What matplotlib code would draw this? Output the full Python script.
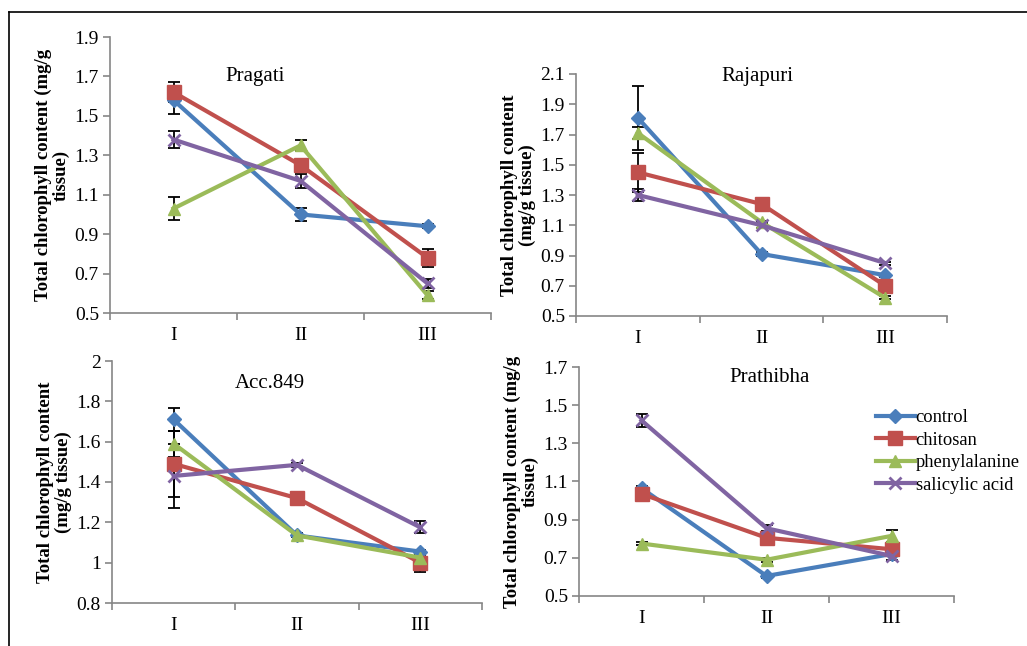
import numpy as np
import matplotlib
matplotlib.use("Agg")
import matplotlib.pyplot as plt
from matplotlib.lines import Line2D

# =====================
# DATA
# =====================
STAGES = ["I", "II", "III"]
SERIES = ["control", "chitosan", "phenylalanine", "salicylic acid"]

pragati_mean = [
    [1.58, 1.00, 0.94],
    [1.62, 1.25, 0.78],
    [1.03, 1.35, 0.59],
    [1.38, 1.17, 0.65],
]
pragati_err = [
    [0.07, 0.035, 0.01],
    [0.05, 0.03, 0.045],
    [0.06, 0.03, 0.02],
    [0.045, 0.035, 0.025],
]

rajapuri_mean = [
    [1.81, 0.91, 0.77],
    [1.45, 1.24, 0.70],
    [1.71, 1.12, 0.62],
    [1.30, 1.10, 0.85],
]
rajapuri_err = [
    [0.21, 0.01, 0.01],
    [0.13, 0.01, 0.02],
    [0.04, 0.01, 0.01],
    [0.04, 0.02, 0.01],
]

acc849_mean = [
    [1.71, 1.135, 1.055],
    [1.49, 1.32, 1.00],
    [1.59, 1.135, 1.025],
    [1.43, 1.485, 1.175],
]
acc849_err = [
    [0.055, 0.01, 0.01],
    [0.165, 0.01, 0.045],
    [0.065, 0.01, 0.01],
    [0.16, 0.01, 0.03],
]

prathibha_mean = [
    [1.065, 0.605, 0.72],
    [1.035, 0.805, 0.745],
    [0.775, 0.69, 0.815],
    [1.42, 0.855, 0.71],
]
prathibha_err = [
    [0.01, 0.01, 0.01],
    [0.01, 0.01, 0.01],
    [0.01, 0.01, 0.03],
    [0.035, 0.015, 0.02],
]

# =====================
# STYLE
# =====================
plt.rcParams["font.family"] = ["Liberation Serif", "DejaVu Serif"]
COLORS = ["#4A7EBB", "#C0504D", "#9BBB59", "#8064A2"]
MARKERS = ["D", "s", "^", "x"]
MSIZES = [7, 10, 9, 9]
AXIS_GRAY = "#868686"

W, H = 1027, 646
fig = plt.figure(figsize=(W / 100, H / 100), dpi=100)

# outer frame (left + top)
fig.add_artist(Line2D([9 / W, 9 / W], [0, 1 - 12 / H], color="black", lw=1.2))
fig.add_artist(Line2D([9 / W, 1], [1 - 12 / H, 1 - 12 / H], color="black", lw=1.2))


def px_axes(left, top, right, bottom):
    return fig.add_axes([left / W, 1 - bottom / H, (right - left) / W, (bottom - top) / H])


def draw_panel(ax, means, errs, title, ylim, yticks, ylabel, title_xy, fmt="%.1f"):
    x = np.arange(1, len(STAGES) + 1)
    for i, name in enumerate(SERIES):
        ax.errorbar(x, means[i], yerr=errs[i], fmt="none", ecolor="black",
                    elinewidth=1.3, capsize=4, capthick=1.3, zorder=2)
    for i, name in enumerate(SERIES):
        mew = 2 if MARKERS[i] == "x" else 1
        ax.plot(x, means[i], color=COLORS[i], lw=3, marker=MARKERS[i],
                markersize=MSIZES[i], markeredgewidth=mew,
                markerfacecolor=COLORS[i], markeredgecolor=COLORS[i],
                label=name, zorder=3)
    ax.set_xlim(0.5, 3.5)
    ax.set_ylim(*ylim)
    ax.set_yticks(yticks)
    ax.set_yticklabels([fmt % t if fmt else ("%g" % t) for t in yticks])
    ax.set_xticks([0.5, 1.5, 2.5, 3.5])
    ax.set_xticklabels([])
    ax.set_xticks(x, minor=True)
    ax.set_xticklabels(STAGES, minor=True)
    ax.tick_params(axis="x", which="major", direction="out", length=5, color=AXIS_GRAY, width=1.2)
    ax.tick_params(axis="x", which="minor", length=0, labelsize=14, pad=10)
    ax.tick_params(axis="y", direction="out", length=5, color=AXIS_GRAY, width=1.2,
                   labelsize=14, pad=3)
    for s in ["top", "right"]:
        ax.spines[s].set_visible(False)
    for s in ["left", "bottom"]:
        ax.spines[s].set_color(AXIS_GRAY)
        ax.spines[s].set_linewidth(1.2)
    ax.set_ylabel(ylabel, fontsize=13.5, fontweight="bold", labelpad=3, linespacing=1.05)
    ax.text(title_xy[0], title_xy[1], title, transform=fig.transFigure,
            ha="center", va="center", fontsize=15)


ax1 = px_axes(110, 37, 491, 313)
draw_panel(ax1, pragati_mean, pragati_err, "Pragati", (0.5, 1.9),
           [0.5, 0.7, 0.9, 1.1, 1.3, 1.5, 1.7, 1.9],
           "Total chlorophyll content (mg/g\ntissue)", (255 / W, 1 - 77 / H))

ax2 = px_axes(576, 74, 947, 316)
draw_panel(ax2, rajapuri_mean, rajapuri_err, "Rajapuri", (0.5, 2.1),
           [0.5, 0.7, 0.9, 1.1, 1.3, 1.5, 1.7, 1.9, 2.1],
           "Total chlorophyll content\n(mg/g tissue)", (757 / W, 1 - 77 / H))

ax3 = px_axes(112, 361, 482, 603)
draw_panel(ax3, acc849_mean, acc849_err, "Acc.849", (0.8, 2.0),
           [0.8, 1.0, 1.2, 1.4, 1.6, 1.8, 2.0],
           "Total chlorophyll content\n(mg/g tissue)", (270 / W, 1 - 384 / H), fmt=None)

ax4 = px_axes(579, 367, 954, 596)
draw_panel(ax4, prathibha_mean, prathibha_err, "Prathibha", (0.5, 1.7),
           [0.5, 0.7, 0.9, 1.1, 1.3, 1.5, 1.7],
           "Total chlorophyll content (mg/g\ntissue)", (770 / W, 1 - 378 / H))

handles, labels = ax4.get_legend_handles_labels()
fig.legend(handles, labels, loc="upper left", bbox_to_anchor=(876 / W, 1 - 409 / H),
           frameon=False, fontsize=13.3, handlelength=2.1, handletextpad=0.05,
           labelspacing=0.3, borderpad=0, borderaxespad=0)

fig.savefig("out.png", dpi=100)
